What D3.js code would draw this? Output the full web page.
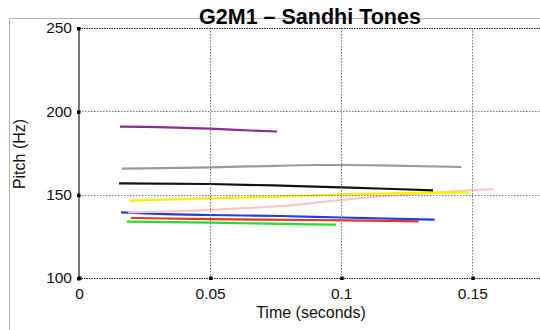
<!DOCTYPE html>
<html>
<head>
<meta charset="utf-8">
<script src="https://cdn.jsdelivr.net/npm/d3@7/dist/d3.min.js"></script>
<style>
  html, body { margin: 0; padding: 0; background: #fff; }
  svg { display: block; font-family: "Liberation Sans", Arial, Helvetica, sans-serif; }
</style>
</head>
<body>
<svg id="chart" width="540" height="330"></svg>
<script>
// Pitch contours: [time (s), pitch (Hz)]
const purple = [[0.0156, 190.8], [0.025, 190.7], [0.04, 190.1], [0.05, 189.6], [0.065, 188.5], [0.0755, 187.9]];
const gray   = [[0.0163, 165.6], [0.05, 166.4], [0.075, 167.3], [0.09, 167.8], [0.1, 167.8], [0.12, 167.4], [0.1458, 166.6]];
const black  = [[0.0153, 156.8], [0.05, 156.4], [0.08, 155.3], [0.1, 154.4], [0.12, 153.4], [0.135, 152.6]];
const yellow = [[0.0191, 146.4], [0.05, 147.8], [0.077, 149.0], [0.1, 150.2], [0.125, 150.9], [0.1486, 151.4]];
const pink   = [[0.0188, 139.4], [0.04, 140.2], [0.06, 141.6], [0.077, 143.2], [0.1, 146.8], [0.12, 149.5], [0.134, 151.0], [0.145, 152.2], [0.158, 153.4]];
const blue   = [[0.016, 139.4], [0.03, 138.5], [0.05, 137.8], [0.077, 137.2], [0.1, 136.3], [0.1356, 135.0]];
const red    = [[0.0198, 136.0], [0.05, 135.3], [0.088, 134.8], [0.11, 134.4], [0.1295, 134.0]];
const green  = [[0.0182, 133.8], [0.05, 133.2], [0.077, 132.5], [0.098, 132.0]];

const seriesList = [
  { data: blue,   color: "#1f3fe0" },
  { data: pink,   color: "#ffc2c8" },
  { data: red,    color: "#e5352b" },
  { data: green,  color: "#22e022" },
  { data: yellow, color: "#ffee00" },
  { data: black,  color: "#111111" },
  { data: gray,   color: "#9a9a9a" },
  { data: purple, color: "#8e2a8e" }
];

const xTicks = [0, 0.05, 0.1, 0.15];
const yTicks = [100, 150, 200, 250];
const xDomain = [0, 0.18];
const yDomain = [100, 250];

const svg = d3.select("#chart");
const plotLeft = 79, plotRight = 551, plotTop = 28, plotBottom = 278;

const x = d3.scaleLinear().domain(xDomain).range([plotLeft, plotRight]);
const y = d3.scaleLinear().domain(yDomain).range([plotBottom, plotTop]);

// outer frame
svg.append("path")
  .attr("d", "M9.5,330 L9.5,18.5 L540,18.5")
  .attr("fill", "none").attr("stroke", "#b5b5b5").attr("stroke-width", 1);

// contours
const line = d3.line().x(d => x(d[0])).y(d => y(d[1])).curve(d3.curveMonotoneX);
svg.append("g").selectAll("path").data(seriesList).join("path")
  .attr("d", d => line(d.data))
  .attr("fill", "none")
  .attr("stroke", d => d.color)
  .attr("stroke-width", 2.2)
  .attr("stroke-linecap", "butt");

// dotted grid
const grid = svg.append("g");
grid.selectAll(".gx").data(xTicks.filter(t => t > 0)).join("line")
  .attr("x1", d => Math.round(x(d)) + 0.5).attr("x2", d => Math.round(x(d)) + 0.5)
  .attr("y1", plotTop).attr("y2", plotBottom)
  .attr("stroke", "#7a7a7a").attr("stroke-width", 1).attr("stroke-dasharray", "1.5,1.5");
grid.selectAll(".gy").data(yTicks.filter(t => t > 100 && t < 250)).join("line")
  .attr("x1", plotLeft).attr("x2", 540)
  .attr("y1", d => Math.round(y(d)) + 0.5).attr("y2", d => Math.round(y(d)) + 0.5)
  .attr("stroke", "#7a7a7a").attr("stroke-width", 1).attr("stroke-dasharray", "1.5,1.5");

// top and bottom frame lines of the plot
[250, 100].forEach(v => {
  svg.append("line")
    .attr("x1", plotLeft).attr("x2", 540)
    .attr("y1", Math.round(y(v)) + 0.5).attr("y2", Math.round(y(v)) + 0.5)
    .attr("stroke", "#222").attr("stroke-width", 1.2).attr("stroke-dasharray", "1.5,1");
});
// y axis line
svg.append("line")
  .attr("x1", plotLeft).attr("x2", plotLeft).attr("y1", plotTop).attr("y2", plotBottom)
  .attr("stroke", "#666").attr("stroke-width", 1.8);

// axes with square tick marks
const yAxis = d3.axisLeft(y).tickValues(yTicks).tickFormat(d3.format("d")).tickSize(0).tickPadding(7);
const yg = svg.append("g").attr("transform", `translate(${plotLeft},0)`).call(yAxis);
yg.select(".domain").remove();
yg.selectAll("text").attr("font-size", 15.5).attr("fill", "#111");
yg.selectAll(".tick").append("rect").attr("x", -2).attr("y", -1.5).attr("width", 3.5).attr("height", 3.5).attr("fill", "#000");

const xAxis = d3.axisBottom(x).tickValues(xTicks).tickFormat(d => d === 0 ? "0" : String(d)).tickSize(0).tickPadding(10);
const xg = svg.append("g").attr("transform", `translate(0,${plotBottom})`).call(xAxis);
xg.select(".domain").remove();
xg.selectAll("text").attr("font-size", 15.5).attr("fill", "#111");
xg.selectAll(".tick").append("rect").attr("x", -1.5).attr("y", -1.5).attr("width", 3.5).attr("height", 3.5).attr("fill", "#000");

// titles
svg.append("text").attr("x", 310).attr("y", 24).attr("text-anchor", "middle")
  .attr("font-size", 21.5).attr("font-weight", "bold").attr("fill", "#000")
  .text("G2M1 – Sandhi Tones");
svg.append("text").attr("x", 311).attr("y", 318).attr("text-anchor", "middle")
  .attr("font-size", 16).attr("fill", "#111").text("Time (seconds)");
svg.append("text").attr("transform", "translate(25,154) rotate(-90)").attr("text-anchor", "middle")
  .attr("font-size", 16).attr("fill", "#111").text("Pitch (Hz)");
</script>
</body>
</html>
